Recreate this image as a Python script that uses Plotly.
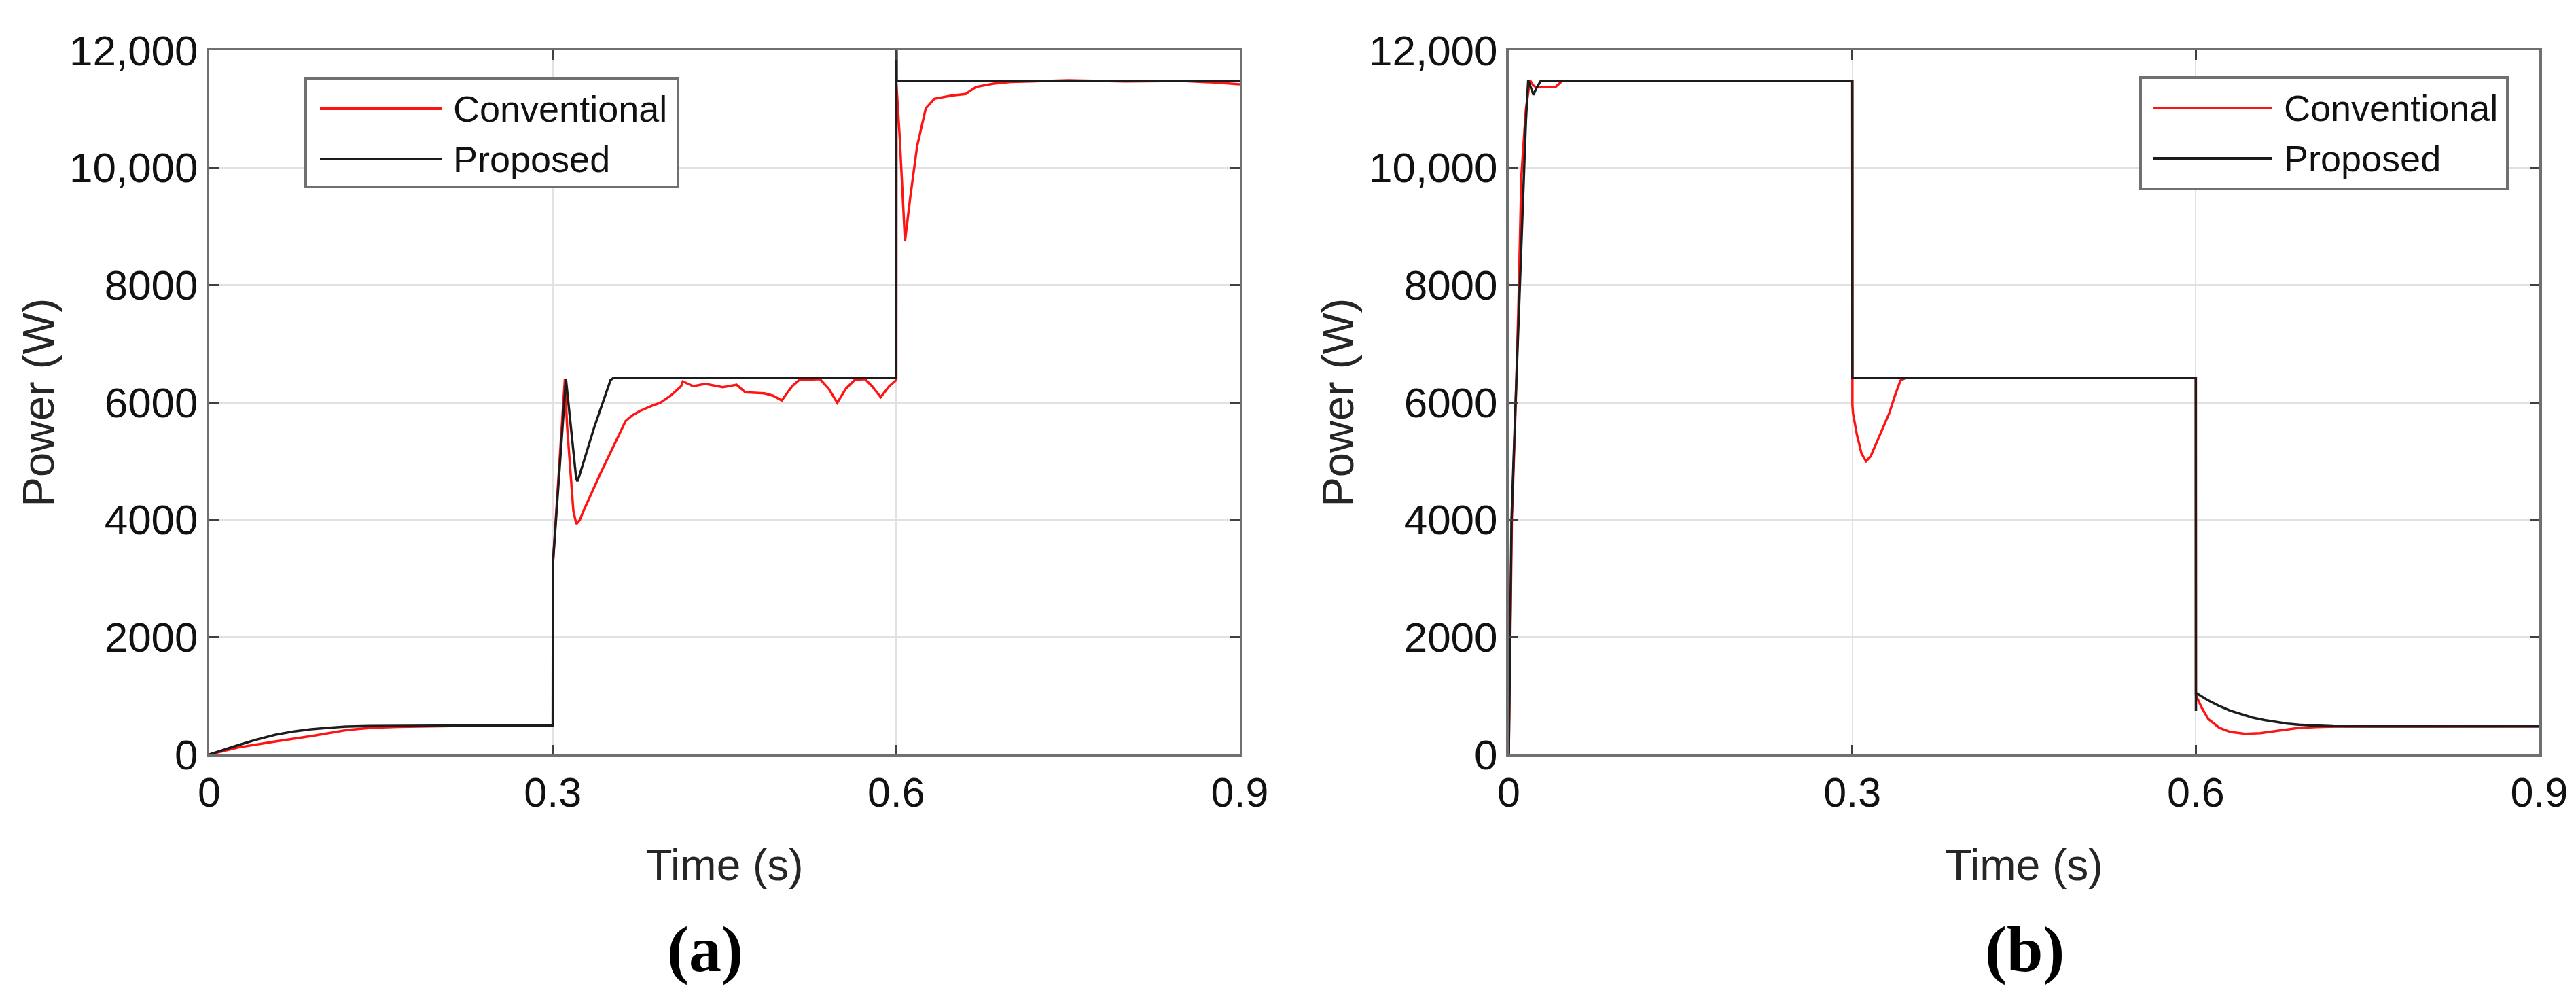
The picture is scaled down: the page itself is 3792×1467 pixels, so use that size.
import plotly.graph_objects as go

# ---------------- data ----------------
# (a) Proposed
t_a_prop = [0, 0.013, 0.026, 0.04, 0.058, 0.075, 0.089, 0.105, 0.121, 0.14, 0.164, 0.2, 0.3,
            0.3001, 0.3115, 0.3205, 0.3215, 0.3228, 0.336, 0.3505, 0.353, 0.36, 0.45, 0.6,
            0.6001, 0.6004, 0.7, 0.8, 0.9]
p_a_prop = [0, 85, 162, 245, 336, 395, 428, 455, 475, 484, 490, 490, 490,
            3240, 6400, 4700, 4656, 4720, 5560, 6380, 6415, 6420, 6420, 6420,
            13000, 11480, 11480, 11480, 11480]

# (a) Conventional
t_a_conv = [0, 0.0259, 0.0576, 0.0894, 0.121, 0.1424, 0.1645, 0.1845, 0.205, 0.23, 0.3,
            0.3001, 0.3106, 0.3125, 0.318, 0.3206, 0.3235, 0.3273, 0.3424, 0.3576, 0.3636,
            0.3697, 0.3758, 0.3879, 0.3939, 0.403, 0.4121, 0.4136, 0.4227, 0.4333, 0.4485,
            0.4606, 0.4682, 0.4848, 0.4924, 0.5, 0.5091, 0.5152, 0.5333, 0.5409, 0.5485,
            0.5561, 0.5636, 0.5727, 0.5788, 0.5864, 0.5939, 0.6, 0.6001, 0.603, 0.6076,
            0.6121, 0.6182, 0.6258, 0.6333, 0.6485, 0.6606, 0.6697, 0.685, 0.7, 0.75, 0.8,
            0.85, 0.88, 0.9]
p_a_conv = [0, 120, 220, 313, 417, 455, 468, 475, 480, 488, 488,
            3240, 6397, 5600, 4150, 3927, 3990, 4170, 4818, 5425, 5680,
            5780, 5850, 5951, 5992, 6113, 6275, 6356, 6275, 6316, 6259,
            6300, 6170, 6154, 6113, 6032, 6275, 6380, 6397, 6235, 5992,
            6235, 6380, 6397, 6275, 6089, 6275, 6380, 11433, 10526, 8745,
            9474, 10364, 11012, 11174, 11230, 11255, 11376, 11433, 11460, 11490, 11470,
            11480, 11450, 11420]

# (b) Proposed
t_b_prop = [0, 0.001, 0.0024, 0.0056, 0.009, 0.013, 0.015, 0.017, 0.0195, 0.0216, 0.024,
            0.0279, 0.3, 0.3001, 0.6, 0.6001, 0.6002, 0.61, 0.62, 0.63, 0.64, 0.65, 0.66,
            0.67, 0.68, 0.69, 0.7, 0.72, 0.75, 0.9]
p_b_prop = [0, 2000, 4000, 5815, 7700, 9850, 10800, 11490, 11350, 11240, 11350,
            11480, 11480, 6420, 6420, 740, 1047, 930, 830, 745, 680, 625, 585,
            550, 525, 507, 495, 482, 478, 478]

# (b) Conventional
t_b_conv = [0, 0.0012, 0.0027, 0.0058, 0.0085, 0.011, 0.015, 0.0185, 0.0215, 0.0238,
            0.0408, 0.0467, 0.3, 0.3001, 0.3006, 0.304, 0.308, 0.312, 0.316, 0.322, 0.328,
            0.3323, 0.337, 0.342, 0.347, 0.6, 0.6001, 0.6052, 0.611, 0.6206, 0.6302, 0.643,
            0.6563, 0.6724, 0.6888, 0.705, 0.7214, 0.9]
p_b_conv = [0, 2000, 4000, 5815, 7700, 9850, 11000, 11490, 11400, 11375,
            11375, 11480, 11480, 5950, 5815, 5450, 5130, 4995, 5080, 5350, 5620,
            5815, 6100, 6370, 6420, 6420, 1008, 795, 602, 452, 382, 351,
            363, 409, 448, 467, 475, 478]

x_tickvals = [0, 0.3, 0.6, 0.9]
x_ticktext = ["0", "0.3", "0.6", "0.9"]
y_tickvals = [0, 2000, 4000, 6000, 8000, 10000, 12000]
y_ticktext = ["0", "2000", "4000", "6000", "8000", "10,000", "12,000"]
series_names = ["Conventional", "Proposed"]
panel_labels = ["(a)", "(b)"]

# ---------------- styling ----------------
W, H = 3792, 1467
RED = "#ff1414"
BLACK = "#1c1c1c"
SANS = "Liberation Sans, Arial, sans-serif"
SERIF = "Liberation Serif, Times New Roman, serif"


def fx(x):
    return x / W


def fy(y):
    return 1 - y / H


fig = go.Figure()
fig.add_trace(go.Scatter(x=t_a_conv, y=p_a_conv, mode="lines", name=series_names[0],
                         line=dict(color=RED, width=3.5), xaxis="x", yaxis="y"))
fig.add_trace(go.Scatter(x=t_a_prop, y=p_a_prop, mode="lines", name=series_names[1],
                         line=dict(color=BLACK, width=3.5), xaxis="x", yaxis="y"))
fig.add_trace(go.Scatter(x=t_b_conv, y=p_b_conv, mode="lines", name=series_names[0],
                         line=dict(color=RED, width=3.5), xaxis="x2", yaxis="y2"))
fig.add_trace(go.Scatter(x=t_b_prop, y=p_b_prop, mode="lines", name=series_names[1],
                         line=dict(color=BLACK, width=3.5), xaxis="x2", yaxis="y2"))

ydom = [fy(1102), fy(66)]
common_x = dict(range=[0, 0.9], tickvals=x_tickvals, ticktext=x_ticktext, automargin=False,
                showgrid=True, gridcolor="#e2e2e2", gridwidth=2,
                showline=True, linecolor="#707070", linewidth=4, mirror="ticks",
                ticks="inside", ticklen=14, tickwidth=3, tickcolor="#404040",
                zeroline=False, tickfont=dict(family=SANS, size=61, color="#111111"),
                title=dict(text="Time (s)", font=dict(family=SANS, size=64, color="#262626"),
                           standoff=52))
common_y = dict(range=[0, 12000], tickvals=y_tickvals, ticktext=y_ticktext, automargin=False,
                showgrid=True, gridcolor="#e2e2e2", gridwidth=3,
                showline=True, linecolor="#707070", linewidth=4, mirror="ticks",
                ticks="inside", ticklen=14, tickwidth=3, tickcolor="#404040",
                zeroline=False, tickfont=dict(family=SANS, size=62, color="#111111"),
                title=dict(text="Power (W)", font=dict(family=SANS, size=65, color="#262626"),
                           standoff=2))

fig.update_layout(
    width=W, height=H,
    margin=dict(l=0, r=0, t=0, b=0, autoexpand=False),
    paper_bgcolor="white", plot_bgcolor="white",
    showlegend=False,
    xaxis=dict(domain=[fx(300), fx(1817)], anchor="y", **common_x),
    yaxis=dict(domain=ydom, anchor="x", **common_y),
    xaxis2=dict(domain=[fx(2213), fx(3730)], anchor="y2", **common_x),
    yaxis2=dict(domain=ydom, anchor="x2", **common_y),
)

# ---------------- legends (drawn as boxes inside each panel) ----------------
shapes = []
annotations = []
legend_boxes = [
    # box x0, x1, y0, y1, line x0, line x1, text x, row y (red), row y (black)
    (442, 990, 107, 267, 463, 642, 657, 152, 226),
    (3143, 3683, 106, 270, 3161, 3336, 3352, 151, 225),
]
for (bx0, bx1, by0, by1, lx0, lx1, tx, ry, ky) in legend_boxes:
    shapes.append(dict(type="rect", xref="paper", yref="paper",
                       x0=fx(bx0), x1=fx(bx1), y0=fy(by1), y1=fy(by0),
                       line=dict(color="#707070", width=4), fillcolor="white", layer="above"))
    for yy, col, name in [(ry, RED, series_names[0]), (ky, BLACK, series_names[1])]:
        shapes.append(dict(type="line", xref="paper", yref="paper",
                           x0=fx(lx0), x1=fx(lx1), y0=fy(yy), y1=fy(yy),
                           line=dict(color=col, width=4), layer="above"))
        annotations.append(dict(xref="paper", yref="paper", x=fx(tx), y=fy(yy),
                                xanchor="left", yanchor="middle", showarrow=False,
                                text=name, font=dict(family=SANS, size=54, color="#111111")))

for lbl, cx in zip(panel_labels, [1030, 2972]):
    annotations.append(dict(xref="paper", yref="paper", x=fx(cx), y=fy(1388),
                            xanchor="center", yanchor="middle", showarrow=False,
                            text="<b>" + lbl + "</b>",
                            font=dict(family=SERIF, size=96, color="#000000")))

fig.update_layout(shapes=shapes, annotations=annotations)

fig.write_html("out.html", config={"displayModeBar": False})
